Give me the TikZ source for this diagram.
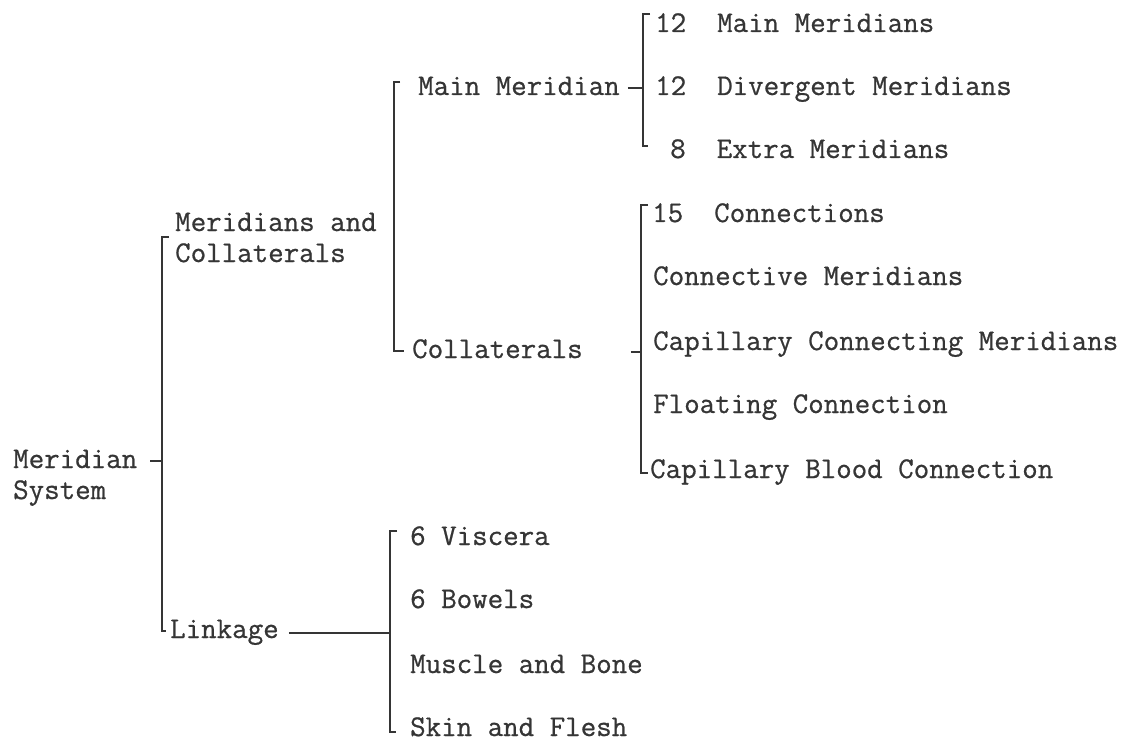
\documentclass[tikz,border=0pt]{standalone}
\usepackage{fontspec}
\newfontfamily\twfont{Latin Modern Mono}[FakeBold=0.7]
\definecolor{ink}{HTML}{353535}
\begin{document}
\begin{tikzpicture}[x=1pt,y=-1pt,
  lbl/.style={anchor=base west, inner sep=0pt, align=left, text=ink,
    font=\fontsize{30.1}{31}\twfont},
  ln/.style={draw=ink, line width=2.2pt, line join=miter}]
\useasboundingbox[fill=white] (0,0) rectangle (1137,743);

% labels (base anchor of a two-line node is its last line)
\node[lbl] (ms)  at (13,499)  {Meridian\\System};
\node[lbl] (mc)  at (175,262) {Meridians and\\Collaterals};
\node[lbl] (mm)  at (418,95)  {Main Meridian};
\node[lbl] (col) at (412,358) {Collaterals};
\node[lbl] (lk)  at (170,638) {Linkage};
\node[lbl] (a1)  at (655,32)  {12\ \ Main Meridians};
\node[lbl] (a2)  at (655,95)  {12\ \ Divergent Meridians};
\node[lbl] (a3)  at (670,158) {8\ \ Extra Meridians};
\node[lbl] (b1)  at (652,222) {15\ \ Connections};
\node[lbl] (b2)  at (653,285) {Connective Meridians};
\node[lbl] (b3)  at (653,350) {Capillary Connecting Meridians};
\node[lbl] (b4)  at (653,413) {Floating Connection};
\node[lbl] (b5)  at (650,478) {Capillary Blood Connection};
\node[lbl] (c1)  at (410,545) {6 Viscera};
\node[lbl] (c2)  at (410,608) {6 Bowels};
\node[lbl] (c3)  at (410,673) {Muscle and Bone};
\node[lbl] (c4)  at (410,736) {Skin and Flesh};

% bracket spine coordinates
\coordinate (Atop) at (162,237); \coordinate (Abot) at (162,631);
\coordinate (Amid) at (162,461);
\coordinate (Btop) at (394,82);  \coordinate (Bbot) at (394,351);
\coordinate (Ctop) at (643,14);  \coordinate (Cbot) at (643,146);
\coordinate (Cmid) at (643,88);
\coordinate (Dtop) at (641,205); \coordinate (Dbot) at (641,473);
\coordinate (Dmid) at (641,352);
\coordinate (Etop) at (390,531); \coordinate (Ebot) at (390,732);
\coordinate (Emid) at (390,633);

% root bracket
\draw[ln] ([xshift=7]Atop) -- (Atop) -- (Abot) -- ([xshift=4]Abot);
\draw[ln] ([xshift=-12]Amid) -- (Amid);
% meridians and collaterals bracket
\draw[ln] ([xshift=6]Btop) -- (Btop) -- (Bbot) -- ([xshift=10]Bbot);
% main meridian bracket
\draw[ln] ([xshift=7]Ctop) -- (Ctop) -- (Cbot) -- ([xshift=5]Cbot);
\draw[ln] ([xshift=8]mm.east |- Cmid) -- (Cmid);
% collaterals bracket
\draw[ln] ([xshift=7]Dtop) -- (Dtop) -- (Dbot) -- ([xshift=7]Dbot);
\draw[ln] ([xshift=48]col.east |- Dmid) -- (Dmid);
% linkage bracket
\draw[ln] ([xshift=7]Etop) -- (Etop) -- (Ebot) -- ([xshift=6]Ebot);
\draw[ln] ([xshift=10]lk.east |- Emid) -- (Emid);
\end{tikzpicture}
\end{document}
